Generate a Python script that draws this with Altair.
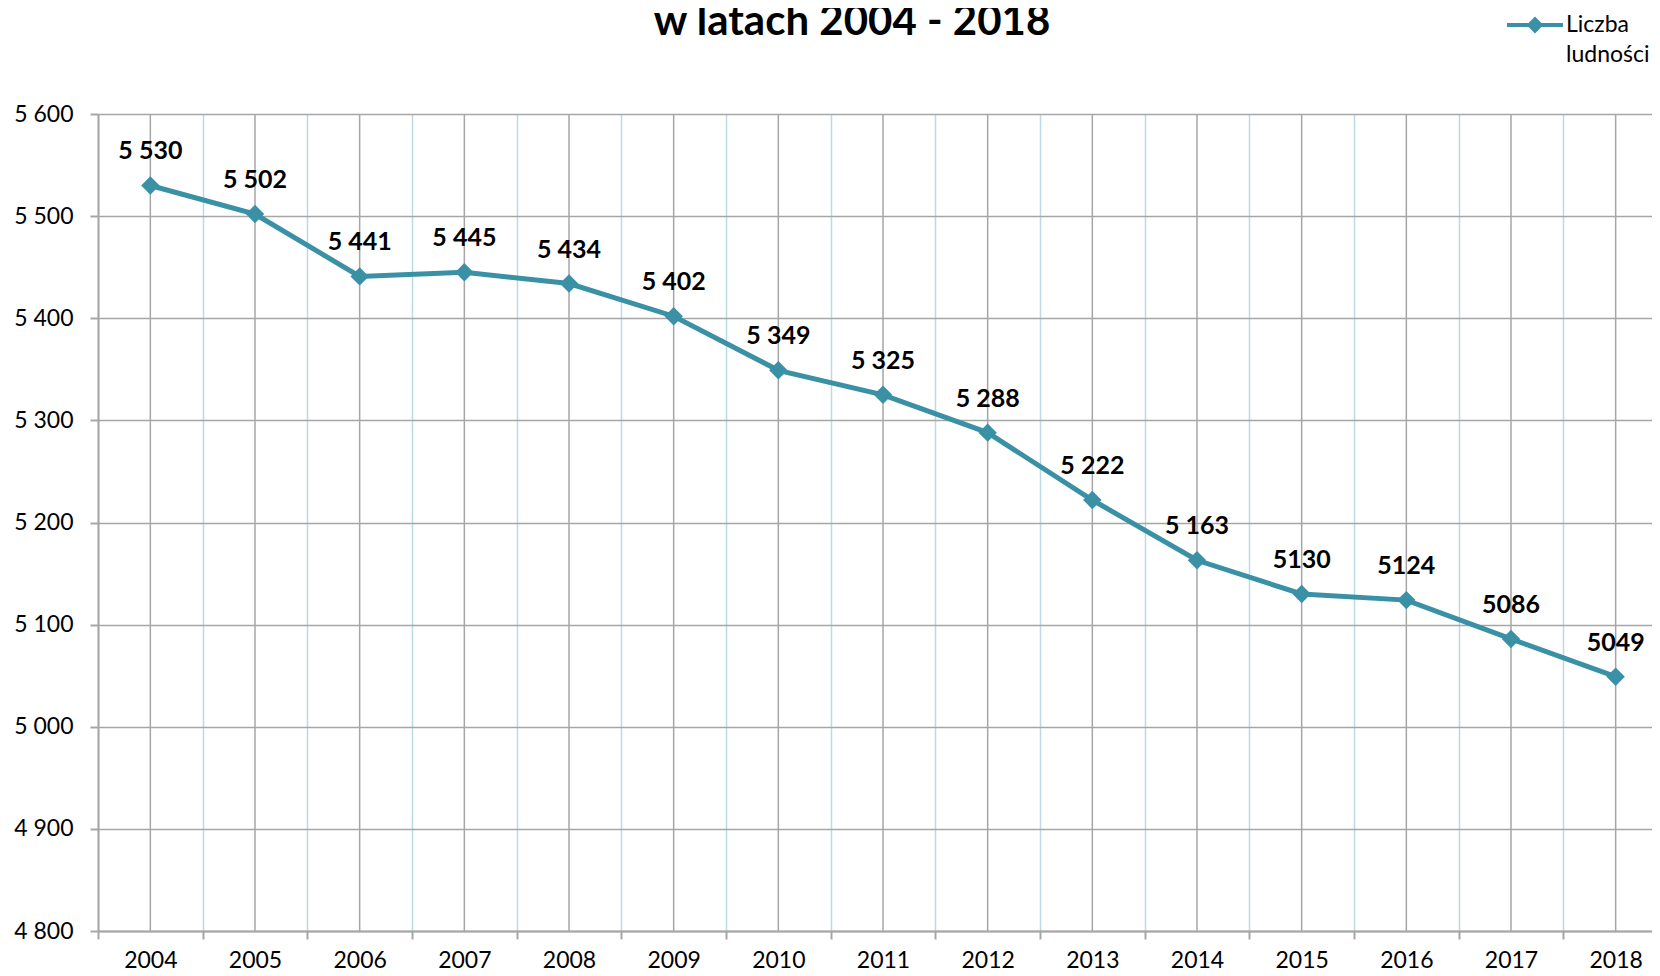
import altair as alt
import pandas as pd

years = [str(y) for y in range(2004, 2019)]
values = [5530, 5502, 5441, 5445, 5434, 5402, 5349, 5325, 5288, 5222, 5163, 5130, 5124, 5086, 5049]
labels = ["5 530", "5 502", "5 441", "5 445", "5 434", "5 402", "5 349", "5 325", "5 288",
          "5 222", "5 163", "5130", "5124", "5086", "5049"]
series = "Liczba ludności"
title_text = ["w latach 2004 - 2018"]

df = pd.DataFrame({"rok": years, "v": values, "lab": labels, "s": [series] * len(years)})
tdf = pd.DataFrame({"t": title_text})

FONT = "Lato"
TEAL = "#3A91A6"
GRAY = "#A6A6A6"

xscale = alt.Scale(paddingInner=0, paddingOuter=0, range=[0, 1570])
xaxis = alt.Axis(title=None, labelAngle=0, labelFontSize=23, labelFont=FONT, labelColor="#000",
                 tickBand="extent", grid=True, gridColor="#BCD9E6", gridWidth=1.5,
                 ticks=True, tickSize=8, tickColor=GRAY, tickWidth=2,
                 domainColor=GRAY, domainWidth=2, labelPadding=10)
yscale = alt.Scale(domain=[4800, 5600], nice=False, zero=False)
yaxis = alt.Axis(title=None, values=list(range(4800, 5601, 100)),
                 labelExpr="replace(format(datum.value, ','), ',', ' ')",
                 labelFontSize=23, labelFont=FONT, labelColor="#000", labelPadding=17,
                 tickSize=8, tickColor=GRAY, tickWidth=2, domainColor=GRAY, domainWidth=2,
                 gridColor=GRAY, gridWidth=1.5)

base = alt.Chart(df)

centers = base.mark_rule(color=GRAY, strokeWidth=1.5).encode(
    x=alt.X("rok:N", scale=xscale, axis=xaxis)
)

line = base.mark_line(strokeWidth=5, point=alt.OverlayMarkDef(shape="diamond", size=340, filled=True, opacity=1)).encode(
    x=alt.X("rok:N", scale=xscale, axis=xaxis),
    y=alt.Y("v:Q", scale=yscale, axis=yaxis),
    color=alt.Color("s:N", scale=alt.Scale(range=[TEAL]),
                    legend=alt.Legend(title=None, orient="none", legendX=1407, legendY=-112,
                                      symbolType="M-1,-0.25L1,-0.25M0,-0.45L0.2,-0.25L0,-0.05L-0.2,-0.25Z",
                                      symbolSize=3136, symbolStrokeWidth=4, symbolFillColor=TEAL,
                                      symbolStrokeColor=TEAL, labelExpr="['Liczba', 'ludności']",
                                      labelFontSize=23, labelFont=FONT, labelColor="#000",
                                      labelBaseline="alphabetic",
                                      labelLimit=300, labelOffset=1)),
)

text = base.mark_text(dy=-34, fontSize=25, fontWeight="bold", font=FONT, color="#000").encode(
    x=alt.X("rok:N", scale=xscale, axis=xaxis),
    y=alt.Y("v:Q", scale=yscale, axis=yaxis),
    text="lab:N",
)

title = alt.Chart(tdf).mark_text(fontSize=42, fontWeight="bold", font=FONT, color="#000",
                                 align="center", baseline="alphabetic").encode(
    x=alt.value(754), y=alt.value(-79), text="t:N"
)

chart = alt.layer(centers, line, text, title).properties(
    width=1554, height=817,
    autosize=alt.AutoSizeParams(type="none"),
    padding={"left": 90, "top": 106, "right": 0, "bottom": 37},
).configure(style={"guide-label": {"lineHeight": 30}}).configure_view(stroke=None).configure_axis(labelFont=FONT)

chart.save("out.html", embed_options={"renderer": "svg", "actions": False})
